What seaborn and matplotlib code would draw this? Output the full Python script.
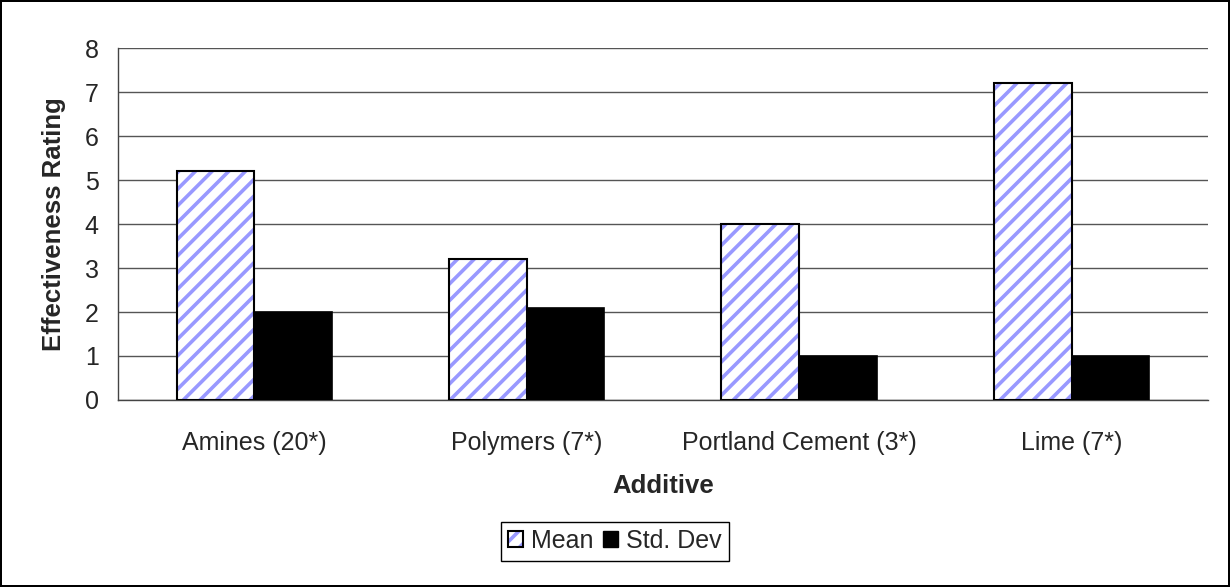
import pandas as pd
import numpy as np
import seaborn as sns
import matplotlib.pyplot as plt
from matplotlib.patches import Rectangle, Patch

# valores
additives = ['Amines (20*)', 'Polymers (7*)', 'Portland Cement (3*)', 'Lime (7*)']
mean_vals = [5.2, 3.2, 4.0, 7.2]
std_vals = [2.0, 2.1, 1.0, 1.0]
series = ['Mean', 'Std. Dev']
yticks = [0, 1, 2, 3, 4, 5, 6, 7, 8]

df = pd.DataFrame({
    'Additive': additives * 2,
    'serie': [series[0]] * len(additives) + [series[1]] * len(additives),
    'value': mean_vals + std_vals,
})

sns.set_style('white')
plt.rcParams['font.family'] = ['Liberation Sans', 'DejaVu Sans']
plt.rcParams['hatch.linewidth'] = 2.6

hatch_blue = '#9999FF'

fig = plt.figure(figsize=(12.3, 5.87), dpi=100)
fig.patch.set_edgecolor('black')
fig.patch.set_linewidth(1.5)
ax = fig.add_axes([0.0959, 0.3186, 0.8861, 0.5995])

sns.barplot(data=df, x='Additive', y='value', hue='serie', order=additives,
            hue_order=series, palette=['white', 'black'], width=0.57,
            edgecolor='black', linewidth=1.2, gap=0, legend=False, ax=ax)

# barras de la media: rayado azul + contorno negro
n = len(additives)
for p in ax.patches[:n]:
    p.set_hatch('//')
    p.set_edgecolor(hatch_blue)
    p.set_linewidth(0)
    ax.add_patch(Rectangle(p.get_xy(), p.get_width(), p.get_height(),
                           facecolor='none', edgecolor='black', linewidth=1.5, zorder=3))
for p in ax.patches[n:2 * n]:
    p.set_edgecolor('black')
    p.set_zorder(3)

ax.set_ylim(0, 8)
ax.set_xlim(-0.5, n - 0.5)
ax.set_yticks(yticks)
ax.yaxis.grid(True, color='#555555', linewidth=1)
ax.set_axisbelow(True)
for s in ['top', 'right']:
    ax.spines[s].set_visible(False)
for s in ['left', 'bottom']:
    ax.spines[s].set_color('#444444')
    ax.spines[s].set_linewidth(1)

ax.tick_params(axis='y', which='major', direction='inout', length=10, width=1,
               color='#444444', labelsize=18, pad=9)
ax.set_xticks(np.arange(n))
ax.set_xticks(np.arange(-0.5, n, 1.0), minor=True)
ax.tick_params(axis='x', which='major', length=0, labelsize=18, pad=22)
ax.tick_params(axis='x', which='minor', direction='out', length=6, width=1, color='#444444')

ax.set_xlabel('Additive', fontsize=18.5, fontweight='bold', labelpad=14)
ax.set_ylabel('Effectiveness Rating', fontsize=18.5, fontweight='bold', labelpad=13)

h_mean = (Patch(facecolor='white', edgecolor=hatch_blue, hatch='//', linewidth=0),
          Patch(facecolor='none', edgecolor='black', linewidth=1.5))
h_std = Patch(facecolor='black', edgecolor='black')
fig.legend([h_mean, h_std], series, loc='center', bbox_to_anchor=(0.5, 0.078),
           ncol=2, fontsize=18, frameon=True, fancybox=False, edgecolor='black',
           handlelength=0.6, handleheight=0.6, handletextpad=0.3,
           columnspacing=0.4, borderpad=0.3, framealpha=1)

fig.savefig('out.png', dpi=100, edgecolor=fig.get_edgecolor())
